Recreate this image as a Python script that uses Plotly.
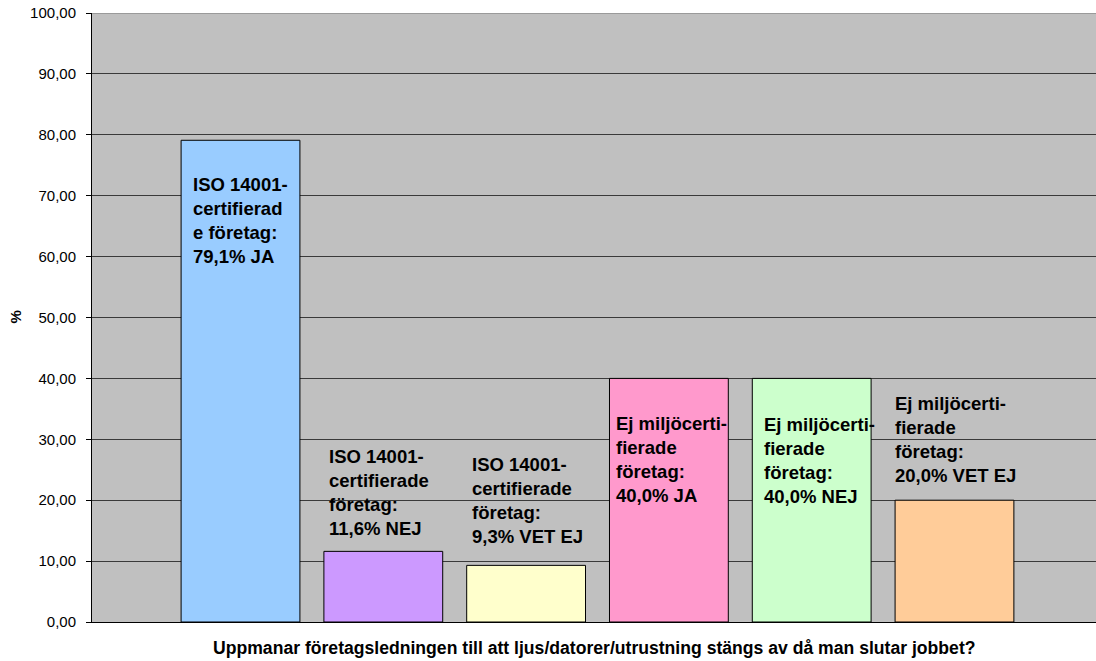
import plotly.graph_objects as go

categories = ["ISO 14001 JA", "ISO 14001 NEJ", "ISO 14001 VET EJ",
              "Ej miljöcert JA", "Ej miljöcert NEJ", "Ej miljöcert VET EJ"]
values = [79.1, 11.6, 9.3, 40.0, 40.0, 20.0]
labels = [
    "ISO 14001-<br>certifierad<br>e företag:<br>79,1% JA",
    "ISO 14001-<br>certifierade<br>företag:<br>11,6% NEJ",
    "ISO 14001-<br>certifierade<br>företag:<br>9,3% VET EJ",
    "Ej miljöcerti-<br>fierade<br>företag:<br>40,0% JA",
    "Ej miljöcerti-<br>fierade<br>företag:<br>40,0% NEJ",
    "Ej miljöcerti-<br>fierade<br>företag:<br>20,0% VET EJ",
]
colors = ["#99CCFF", "#CC99FF", "#FFFFCC", "#FF99CC", "#CCFFCC", "#FFCC99"]
# label placement offsets (pixels): left shift from bar centre, vertical shift from bar top
label_xshift = [-50, -56, -56, -55, -50, -61]
label_yshift = [-80.7, 59, 65, -81, -82, 61]

yticks = list(range(0, 101, 10))

FONT = "Liberation Sans, Arial, sans-serif"

fig = go.Figure()
fig.add_trace(go.Bar(
    x=categories, y=values,
    marker=dict(color=colors, line=dict(color="#000000", width=1)),
    hoverinfo="skip",
))

for c, v, t, xs, ys in zip(categories, values, labels, label_xshift, label_yshift):
    fig.add_annotation(
        x=c, y=v, xref="x", yref="y", text="<b>" + t.replace("<br>", "</b><br><b>") + "</b>",
        showarrow=False,
        xanchor="left", yanchor="middle", align="left",
        xshift=xs, yshift=ys,
        font=dict(family=FONT, size=18.5, color="#000000"),
    )

fig.add_annotation(
    x=0, y=0.5, xref="paper", yref="paper", text="<b>%</b>", showarrow=False,
    xshift=-77, textangle=-90, xanchor="center", yanchor="middle",
    font=dict(family=FONT, size=15, color="#000000"),
)
fig.add_annotation(
    x=0.5, y=0, xref="paper", yref="paper",
    text="<b>Uppmanar företagsledningen till att ljus/datorer/utrustning stängs av då man slutar jobbet?</b>",
    showarrow=False, xanchor="center", yanchor="middle", yshift=-26,
    font=dict(family=FONT, size=17.6, color="#000000"),
)

fig.add_shape(type="line", xref="paper", yref="y", x0=0, x1=1, y0=100, y1=100,
              line=dict(color="#9a9a9a", width=2), layer="above")

fig.update_layout(
    width=1096, height=661,
    margin=dict(l=92, r=0, t=13, b=39),
    paper_bgcolor="#FFFFFF", plot_bgcolor="#C0C0C0",
    separators=", ",
    showlegend=False,
    bargap=0.168,
    font=dict(family=FONT, color="#000000"),
    xaxis=dict(
        type="category", range=[-1.040, 5.991], showticklabels=False,
        showgrid=False, zeroline=False, showline=True, linecolor="#000000",
        linewidth=1, ticks="", fixedrange=True,
    ),
    yaxis=dict(
        range=[0, 100], tickvals=yticks, tickformat=".2f",
        showgrid=True, gridcolor="#3a3a3a", gridwidth=1,
        zeroline=False, showline=True, linecolor="#000000", linewidth=1,
        ticks="outside", ticklen=5, tickcolor="#000000",
        ticklabelstandoff=7,
        tickfont=dict(family=FONT, size=15, color="#000000"),
        fixedrange=True,
    ),
)

fig.write_html("out.html")
